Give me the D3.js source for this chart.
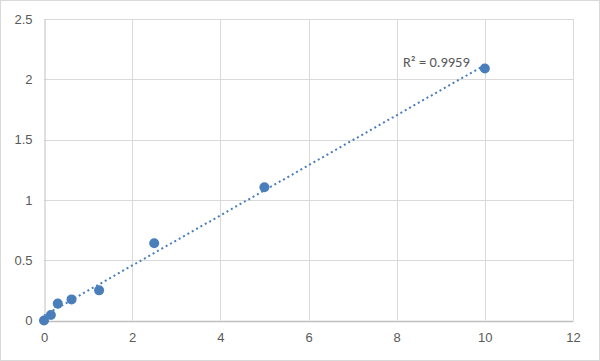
<!DOCTYPE html>
<html>
<head>
<meta charset="utf-8">
<script src="https://cdn.jsdelivr.net/npm/d3@7"></script>
<style>
  body { margin: 0; background: #fff; }
  svg { display: block; font-family: Calibri, Carlito, "Open Sans", sans-serif; }
</style>
</head>
<body>
<svg id="chart" width="600" height="361"></svg>
<script>
// standard curve values
var concs = [0, 0.156, 0.3125, 0.625, 1.25, 2.5, 5, 10];
var ods = [0, 0.045, 0.14, 0.175, 0.25, 0.64, 1.105, 2.09];
var xTicks = [0, 2, 4, 6, 8, 10, 12];
var yTicks = [0, 0.5, 1, 1.5, 2, 2.5];
var r2Label = "R² = 0.9959";

var svg = d3.select("#chart");
var width = 600, height = 361;
var margin = {top: 19, right: 27, bottom: 40, left: 44};

svg.append("rect")
    .attr("x", 0.5).attr("y", 0.5)
    .attr("width", width - 1).attr("height", height - 1)
    .attr("fill", "#fff").attr("stroke", "#d9d9d9");

var x = d3.scaleLinear().domain([0, 12]).range([margin.left, width - margin.right]);
var y = d3.scaleLinear().domain([0, 2.5]).range([height - margin.bottom - 0.5, margin.top]);

// gridlines
svg.append("g").selectAll("line.h")
    .data(yTicks.slice(1))
  .enter().append("line")
    .attr("x1", x(0)).attr("x2", x(12))
    .attr("y1", function(d) { return Math.round(y(d)) + 0.5; })
    .attr("y2", function(d) { return Math.round(y(d)) + 0.5; })
    .attr("stroke", "#d9d9d9");

svg.append("g").selectAll("line.v")
    .data(xTicks.slice(1))
  .enter().append("line")
    .attr("y1", y(0)).attr("y2", y(2.5))
    .attr("x1", function(d) { return Math.round(x(d)) + 0.5; })
    .attr("x2", function(d) { return Math.round(x(d)) + 0.5; })
    .attr("stroke", "#d9d9d9");

// axes
var xAxis = d3.axisBottom(x).tickValues(xTicks).tickSize(0).tickPadding(12);
var gx = svg.append("g")
    .attr("transform", "translate(0," + Math.round(y(0)) + ")")
    .call(xAxis);
gx.select(".domain").attr("stroke", "#bfbfbf").attr("stroke-width", 1.5);

var yAxis = d3.axisLeft(y).tickValues(yTicks).tickSize(0).tickPadding(12)
    .tickFormat(function(d) { return d; });
var gy = svg.append("g")
    .attr("transform", "translate(" + (Math.round(x(0)) + 0.5) + ",0)")
    .call(yAxis);
gy.select(".domain").attr("stroke", "#bfbfbf");

svg.selectAll(".tick text")
    .attr("fill", "#595959")
    .style("font-size", "13px");

// linear trendline (least squares)
var mx = d3.mean(concs), my = d3.mean(ods);
var sxy = d3.sum(concs, function(c, i) { return (c - mx) * (ods[i] - my); });
var sxx = d3.sum(concs, function(c) { return (c - mx) * (c - mx); });
var slope = sxy / sxx, intercept = my - slope * mx;
var ends = [d3.min(concs), d3.max(concs)];

svg.append("line")
    .attr("x1", x(ends[0])).attr("y1", y(intercept + slope * ends[0]))
    .attr("x2", x(ends[1])).attr("y2", y(intercept + slope * ends[1]))
    .attr("stroke", "#4a7ebb")
    .attr("stroke-width", 2)
    .attr("stroke-dasharray", "2,3");

// points
svg.append("g").selectAll("circle")
    .data(concs)
  .enter().append("circle")
    .attr("cx", function(d) { return x(d); })
    .attr("cy", function(d, i) { return y(ods[i]); })
    .attr("r", 5)
    .attr("fill", "#4a7ebb");

svg.append("text")
    .attr("x", x(10) - 15)
    .attr("y", y(2.09) - 1)
    .attr("text-anchor", "end")
    .attr("fill", "#595959")
    .style("font-size", "14.5px")
    .text(r2Label);
</script>
</body>
</html>
